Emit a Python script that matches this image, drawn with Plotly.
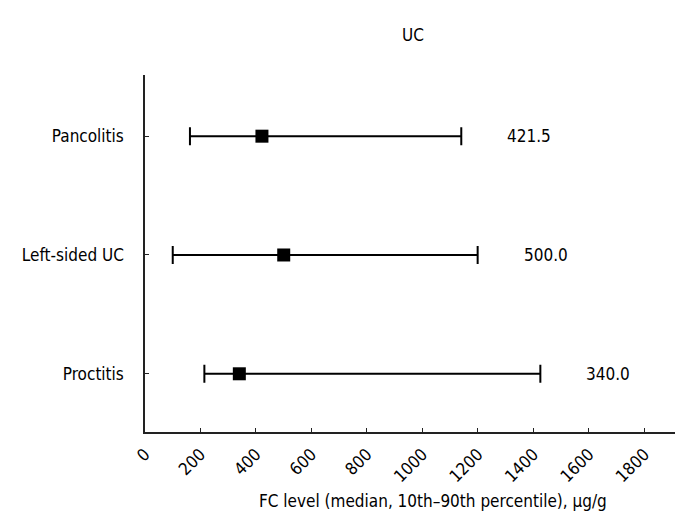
import plotly.graph_objects as go

categories = ["Pancolitis", "Left-sided UC", "Proctitis"]
median = [421.5, 500.0, 340.0]
p10 = [162, 100, 214]
p90 = [1140, 1199, 1425]
median_labels = ["421.5", "500.0", "340.0"]
x_ticks = [0, 200, 400, 600, 800, 1000, 1200, 1400, 1600, 1800]

FONT = "DejaVu Sans Condensed, DejaVu Sans"
FS = 17

def f(size=FS):
    return dict(family=FONT, size=size, color="black")

fig = go.Figure()
fig.add_trace(go.Scatter(
    x=median, y=categories, mode="markers",
    marker=dict(symbol="square", size=13, color="black"),
    error_x=dict(type="data", symmetric=False,
                 array=[h - m for h, m in zip(p90, median)],
                 arrayminus=[m - l for m, l in zip(median, p10)],
                 color="black", thickness=2, width=9),
    showlegend=False, hoverinfo="skip",
))

for cat, hi, lab in zip(categories, p90, median_labels):
    fig.add_annotation(x=hi, y=cat, text=lab, showarrow=False,
                       xanchor="left", yanchor="middle", xshift=44,
                       font=f())

fig.add_annotation(xref="paper", yref="paper", x=0.528, y=-0.194,
                   text="FC level (median, 10th\u201390th percentile), \u00b5g/g",
                   showarrow=False, xanchor="center", yanchor="middle",
                   font=f())

fig.update_layout(
    width=683, height=531,
    margin=dict(l=137, r=0, t=67, b=107),
    paper_bgcolor="white", plot_bgcolor="white",
    font=f(),
    title=dict(text="UC", x=0.593, xanchor="center", y=1 - 27 / 531, yanchor="middle",
               font=f()),
    xaxis=dict(range=[0, 1968], tickmode="array", tickvals=x_ticks,
               ticktext=[str(t) for t in x_ticks], tickangle=-45,
               ticks="inside", ticklen=4, tickcolor="#222", showline=True,
               linecolor="#222", linewidth=1.5, showgrid=False, zeroline=False,
               ticklabelstandoff=4, tickfont=f()),
    yaxis=dict(type="category", categoryorder="array", categoryarray=categories,
               range=[2.49, -0.515], ticks="inside", ticklen=4, tickcolor="#222",
               showline=True, linecolor="#222", linewidth=1.5, showgrid=False,
               zeroline=False, ticklabelstandoff=16, tickfont=f()),
)

fig.write_html("out.html")
